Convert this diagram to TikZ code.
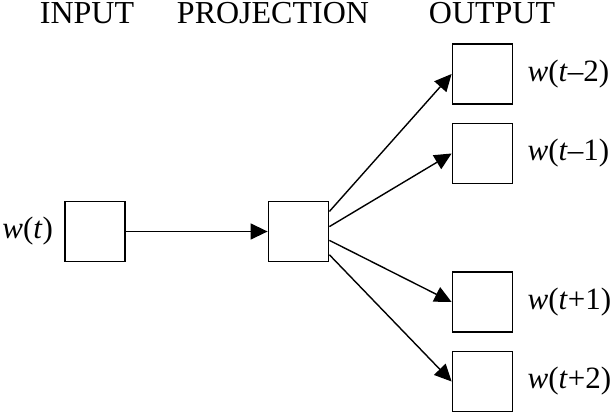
\documentclass[tikz,border=0pt]{standalone}
\usepackage{fontspec}
\setmainfont{Liberation Serif}
\usetikzlibrary{positioning, arrows.meta}

\begin{document}
\begin{tikzpicture}[x=1pt,y=-1pt,
    box/.style={rectangle,draw,line width=1.8pt,minimum size=60pt,inner sep=0pt},
    wlabel/.style={font=\fontsize{31}{36}\selectfont,inner sep=0pt},
    head/.style={font=\fontsize{32}{38}\selectfont,inner sep=0pt,anchor=base},
    link/.style={line width=1.4pt,-{Triangle[length=17pt,width=16pt]}}]
    \useasboundingbox (0,0) rectangle (615,414);

    % Titelzeile
    \node[head] (hin) at (87,24) {INPUT};
    \node[head] (hproj) at (273,24) {PROJECTION};
    \node[head] (hout) at (492,24) {OUTPUT};

    % Eingabe und Projektion
    \node[box] (in) at (95,231.5) {};
    \node[wlabel,left=11pt of in] (win) {\textit{w}(\textit{t})};
    \node[box] (proj) at (298.5,231.5) {};

    % Ausgaben
    \node[box] (om2) at (482.5,74) {};
    \node[box] (om1) at (482.5,153.5) {};
    \node[box] (op1) at (482.5,302) {};
    \node[box] (op2) at (482.5,381.5) {};
    \node[wlabel,right=14pt of om2] (wom2) {\textit{w}(\textit{t}–2)};
    \node[wlabel,right=14pt of om1] (wom1) {\textit{w}(\textit{t}–1)};
    \node[wlabel,right=14pt of op1] (wop1) {\textit{w}(\textit{t}+1)};
    \node[wlabel,right=14pt of op2] (wop2) {\textit{w}(\textit{t}+2)};

    % Pfeile
    \draw[link] (in) -- (proj);
    \draw[link] (proj.33) -- (om2.west);
    \draw[link] (proj.9) -- (om1.west);
    \draw[link] (proj.-16) -- (op1.west);
    \draw[link] (proj.-37) -- (op2.west);
\end{tikzpicture}
\end{document}
